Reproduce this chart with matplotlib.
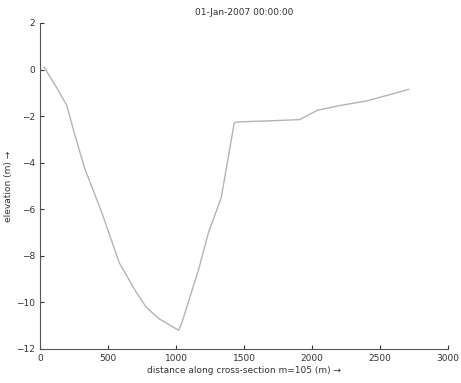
import matplotlib
matplotlib.use("Agg")
import matplotlib.pyplot as plt

# cross-section profile
distance = [29, 124, 197, 255, 328, 451, 582, 700, 779, 873, 1019, 1041, 1100, 1165, 1238, 1332,
            1427, 1450, 1700, 1907, 2040, 2200, 2400, 2620, 2710]
elevation = [0.1, -0.8, -1.55, -2.8, -4.25, -6.1, -8.3, -9.5, -10.2, -10.7, -11.2, -10.9, -9.8,
             -8.6, -7.0, -5.5, -2.3, -2.25, -2.2, -2.15, -1.75, -1.55, -1.35, -1.0, -0.85]

xticks = [0, 500, 1000, 1500, 2000, 2500, 3000]
yticks = [-12, -10, -8, -6, -4, -2, 0, 2]

fig = plt.figure(figsize=(4.61, 3.83), dpi=100)
ax = fig.add_axes([0.087, 0.089, 0.885, 0.851])

ax.plot(distance, elevation, color='#b4b4b4', linewidth=1.0)

ax.set_xlim(0, 3000)
ax.set_ylim(-12, 2)
ax.set_xticks(xticks)
ax.set_yticks(yticks)
ax.tick_params(direction='in', labelsize=6.5, length=3, colors='#333333')
for s in ['top', 'right']:
    ax.spines[s].set_visible(False)
for s in ['left', 'bottom']:
    ax.spines[s].set_color('#555555')

ax.set_title('01-Jan-2007 00:00:00', fontsize=6.5, color='#333333')
ax.set_xlabel('distance along cross-section m=105 (m) \u2192', fontsize=6.5, color='#333333', labelpad=2)
ax.set_ylabel('elevation (m) \u2192', fontsize=6.5, color='#333333', labelpad=2)

fig.savefig('out.png', dpi=100)
